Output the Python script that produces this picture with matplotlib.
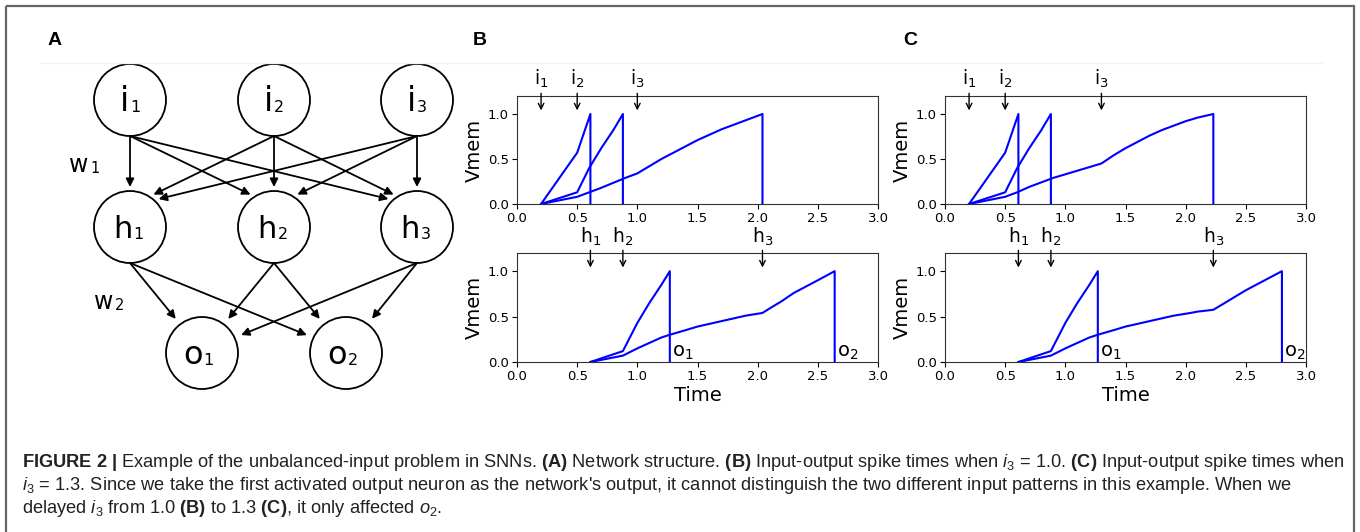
import numpy as np
import matplotlib
matplotlib.use('Agg')
import matplotlib.pyplot as plt
from matplotlib.patches import Circle, FancyArrowPatch, Rectangle

plt.rcParams['mathtext.fontset'] = 'custom'
plt.rcParams['mathtext.rm'] = 'Liberation Sans'
plt.rcParams['mathtext.it'] = 'Liberation Sans:italic'
plt.rcParams['mathtext.bf'] = 'Liberation Sans:bold'

# ---------------- data ----------------
input_labels = [r'$\mathregular{i_1}$', r'$\mathregular{i_2}$', r'$\mathregular{i_3}$']
hidden_labels = [r'$\mathregular{h_1}$', r'$\mathregular{h_2}$', r'$\mathregular{h_3}$']
output_labels = [r'$\mathregular{o_1}$', r'$\mathregular{o_2}$']

input_times_B = [0.2, 0.5, 1.0]
input_times_C = [0.2, 0.5, 1.3]
hidden_times_B = [0.61, 0.88, 2.04]
hidden_times_C = [0.61, 0.88, 2.23]
output_times_B = [1.27, 2.64]
output_times_C = [1.27, 2.80]

# hidden membrane potentials (shared h1, h2)
h1_t = [0.2, 0.5, 0.61, 0.61]
h1_v = [0.0, 0.57, 1.0, 0.0]
h2_t = [0.2, 0.5, 0.6, 0.7, 0.8, 0.88, 0.88]
h2_v = [0.0, 0.13, 0.40, 0.62, 0.82, 1.0, 0.0]
h3B_t = [0.2, 0.5, 0.6, 0.7, 0.8, 0.9, 1.0, 1.1, 1.2, 1.3, 1.4, 1.5, 1.6, 1.7, 1.8, 1.9, 2.0, 2.04, 2.04]
h3B_v = [0.0, 0.08, 0.13, 0.18, 0.235, 0.29, 0.34, 0.42, 0.50, 0.57, 0.64, 0.71, 0.77, 0.83, 0.88, 0.93, 0.98, 1.0, 0.0]
h3C_t = [0.2, 0.5, 0.6, 0.7, 0.8, 0.9, 1.0, 1.1, 1.2, 1.3, 1.4, 1.5, 1.6, 1.7, 1.8, 1.9, 2.0, 2.1, 2.23, 2.23]
h3C_v = [0.0, 0.08, 0.13, 0.19, 0.24, 0.29, 0.33, 0.37, 0.41, 0.45, 0.54, 0.62, 0.69, 0.76, 0.82, 0.87, 0.92, 0.96, 1.0, 0.0]

# output membrane potentials
o1_t = [0.61, 0.88, 1.0, 1.1, 1.2, 1.27, 1.27]
o1_v = [0.0, 0.12, 0.43, 0.65, 0.85, 1.0, 0.0]
o2B_t = [0.61, 0.88, 1.0, 1.1, 1.2, 1.27, 1.4, 1.5, 1.6, 1.7, 1.8, 1.9, 2.04, 2.1, 2.2, 2.3, 2.4, 2.5, 2.64, 2.64]
o2B_v = [0.0, 0.07, 0.15, 0.21, 0.27, 0.30, 0.35, 0.39, 0.42, 0.45, 0.48, 0.51, 0.54, 0.59, 0.67, 0.76, 0.83, 0.90, 1.0, 0.0]
o2C_t = [0.61, 0.88, 1.0, 1.1, 1.2, 1.27, 1.4, 1.5, 1.6, 1.7, 1.8, 1.9, 2.04, 2.1, 2.2, 2.23, 2.3, 2.4, 2.5, 2.6, 2.7, 2.8, 2.8]
o2C_v = [0.0, 0.07, 0.15, 0.21, 0.27, 0.30, 0.35, 0.39, 0.42, 0.45, 0.48, 0.51, 0.54, 0.555, 0.57, 0.575, 0.63, 0.71, 0.79, 0.86, 0.93, 1.0, 0.0]

x_ticks = [0.0, 0.5, 1.0, 1.5, 2.0, 2.5, 3.0]
y_ticks = [0.0, 0.5, 1.0]

# ---------------- figure ----------------
W, H = 1360, 532
fig = plt.figure(figsize=(W / 100, H / 100), dpi=100)

# pixel overlay axes for diagram, border, panel letters
axA = fig.add_axes([0, 0, 1, 1])
axA.set_xlim(0, W)
axA.set_ylim(H, 0)
axA.axis('off')
axA.patch.set_visible(False)

axA.add_patch(Rectangle((6, 6), 1348, 540, fill=False, edgecolor='#666666', lw=1.6))
axA.plot([40, 1322], [63, 63], color='#f2f2f2', lw=1)

for lab, x in zip(['A', 'B', 'C'], [48, 473, 903]):
    axA.text(x, 45, lab, fontsize=14, fontweight='bold', family='Liberation Sans',
             ha='left', va='baseline')

# network diagram
R = 36
in_pos = [(130, 100), (274, 100), (417, 100)]
hid_pos = [(130, 227), (274, 227), (417, 227)]
out_pos = [(202, 353), (346, 353)]

def node(pos, main, sub, size, dx):
    cx, cy = pos
    axA.add_patch(Circle((cx, cy), R, fill=False, edgecolor='black', lw=1.3))
    axA.text(cx + dx, cy + 11, main, fontsize=size, family='DejaVu Sans',
             ha='right', va='baseline')
    axA.text(cx + dx + 1, cy + 12, sub, fontsize=11.5, family='DejaVu Sans',
             ha='left', va='baseline')

for i, p in enumerate(in_pos):
    node(p, 'i', str(i + 1), 24, -1)
for i, p in enumerate(hid_pos):
    node(p, 'h', str(i + 1), 22, 2.5)
for i, p in enumerate(out_pos):
    node(p, 'o', str(i + 1), 23, 0.5)

def edge(src, dst, aim_off, rend):
    sx, sy = src[0], src[1] + R
    tx, ty = dst[0], dst[1] - aim_off
    d = np.array([tx - sx, ty - sy], float)
    d /= np.hypot(*d)
    sc = np.array([sx - dst[0], sy - dst[1]], float)
    b = 2 * sc.dot(d)
    c = sc.dot(sc) - rend ** 2
    t = (-b - np.sqrt(b * b - 4 * c)) / 2
    end = (sx + t * d[0], sy + t * d[1])
    axA.add_patch(FancyArrowPatch((sx, sy), end, arrowstyle='-|>', mutation_scale=12,
                                  lw=1.3, color='black', shrinkA=0, shrinkB=0))

for s in in_pos:
    for d in hid_pos:
        edge(s, d, 21, 40)
for s in hid_pos:
    for d in out_pos:
        edge(s, d, 2, 43)

for (x, y), sub in zip([(88, 172), (113, 309)], ['1', '2']):
    axA.text(x, y, 'w', fontsize=17, family='DejaVu Sans', ha='right', va='baseline')
    axA.text(x + 2, y + 1, sub, fontsize=10.5, family='DejaVu Sans', ha='left', va='baseline')

# ---------------- Vmem panels ----------------
def px_axes(x0, y0, x1, y1):
    return fig.add_axes([x0 / W, 1 - y1 / H, (x1 - x0) / W, (y1 - y0) / H])

def style(ax):
    ax.set_xlim(0, 3)
    ax.set_ylim(0, 1.2)
    ax.set_xticks(x_ticks)
    ax.set_yticks(y_ticks)
    ax.tick_params(labelsize=9.5, pad=2.5)
    ax.set_ylabel('Vmem', fontsize=14, family='DejaVu Sans', labelpad=3)
    for sp in ax.spines.values():
        sp.set_color('#333333')

def arrows(ax, times, labels, label_y):
    for t, lab in zip(times, labels):
        ax.annotate('', xy=(t, 1.04), xytext=(t, 1.23),
                    arrowprops=dict(arrowstyle='->', color='black', lw=1.0,
                                    shrinkA=0, shrinkB=0),
                    annotation_clip=False)
        ax.text(t, label_y, lab, fontsize=13.5, family='DejaVu Sans', ha='center',
                va='bottom', clip_on=False)

def panel(x0, x1, in_times, hid_times, hid_curves, out_times, out_curves):
    top = px_axes(x0, 96, x1, 204)
    bot = px_axes(x0, 253, x1, 362)
    for t, v in hid_curves:
        top.plot(t, v, color='#0000ff', lw=1.5)
    for t, v in out_curves:
        bot.plot(t, v, color='#0000ff', lw=1.5)
    style(top)
    style(bot)
    arrows(top, in_times, input_labels, 1.27)
    arrows(bot, hid_times, hidden_labels, 1.25)
    for t, lab in zip(out_times, output_labels):
        bot.text(t + 0.02, 0.0, lab, fontsize=14, family='DejaVu Sans',
                 ha='left', va='bottom')
    bot.set_xlabel('Time', fontsize=14, family='DejaVu Sans', labelpad=2)

panel(517, 878, input_times_B, hidden_times_B,
      [(h1_t, h1_v), (h2_t, h2_v), (h3B_t, h3B_v)],
      output_times_B, [(o1_t, o1_v), (o2B_t, o2B_v)])
panel(945, 1306, input_times_C, hidden_times_C,
      [(h1_t, h1_v), (h2_t, h2_v), (h3C_t, h3C_v)],
      output_times_C, [(o1_t, o1_v), (o2C_t, o2C_v)])

# ---------------- caption ----------------
cap_lines = [
    r"$\mathbf{FIGURE\ 2\ |}$ Example of the unbalanced-input problem in SNNs. $\mathbf{(A)}$ Network structure. "
    r"$\mathbf{(B)}$ Input-output spike times when $i_3$ = 1.0. $\mathbf{(C)}$ Input-output spike times when",
    r"$i_3$ = 1.3. Since we take the first activated output neuron as the network's output, it cannot distinguish "
    r"the two different input patterns in this example. When we",
    r"delayed $i_3$ from 1.0 $\mathbf{(B)}$ to 1.3 $\mathbf{(C)}$, it only affected $o_2$.",
]
cap_y = [467, 490, 513]
cap_texts = []
for s, y in zip(cap_lines, cap_y):
    cap_texts.append(fig.text(22 / W, 1 - y / H, s, fontsize=11, family='Liberation Sans',
                              color='#222222', ha='left', va='baseline'))

fig.canvas.draw()
w1 = cap_texts[0].get_window_extent().width
fs = 11 * 1320 / w1
for t in cap_texts:
    t.set_fontsize(fs)

fig.savefig('out.png', dpi=100)
